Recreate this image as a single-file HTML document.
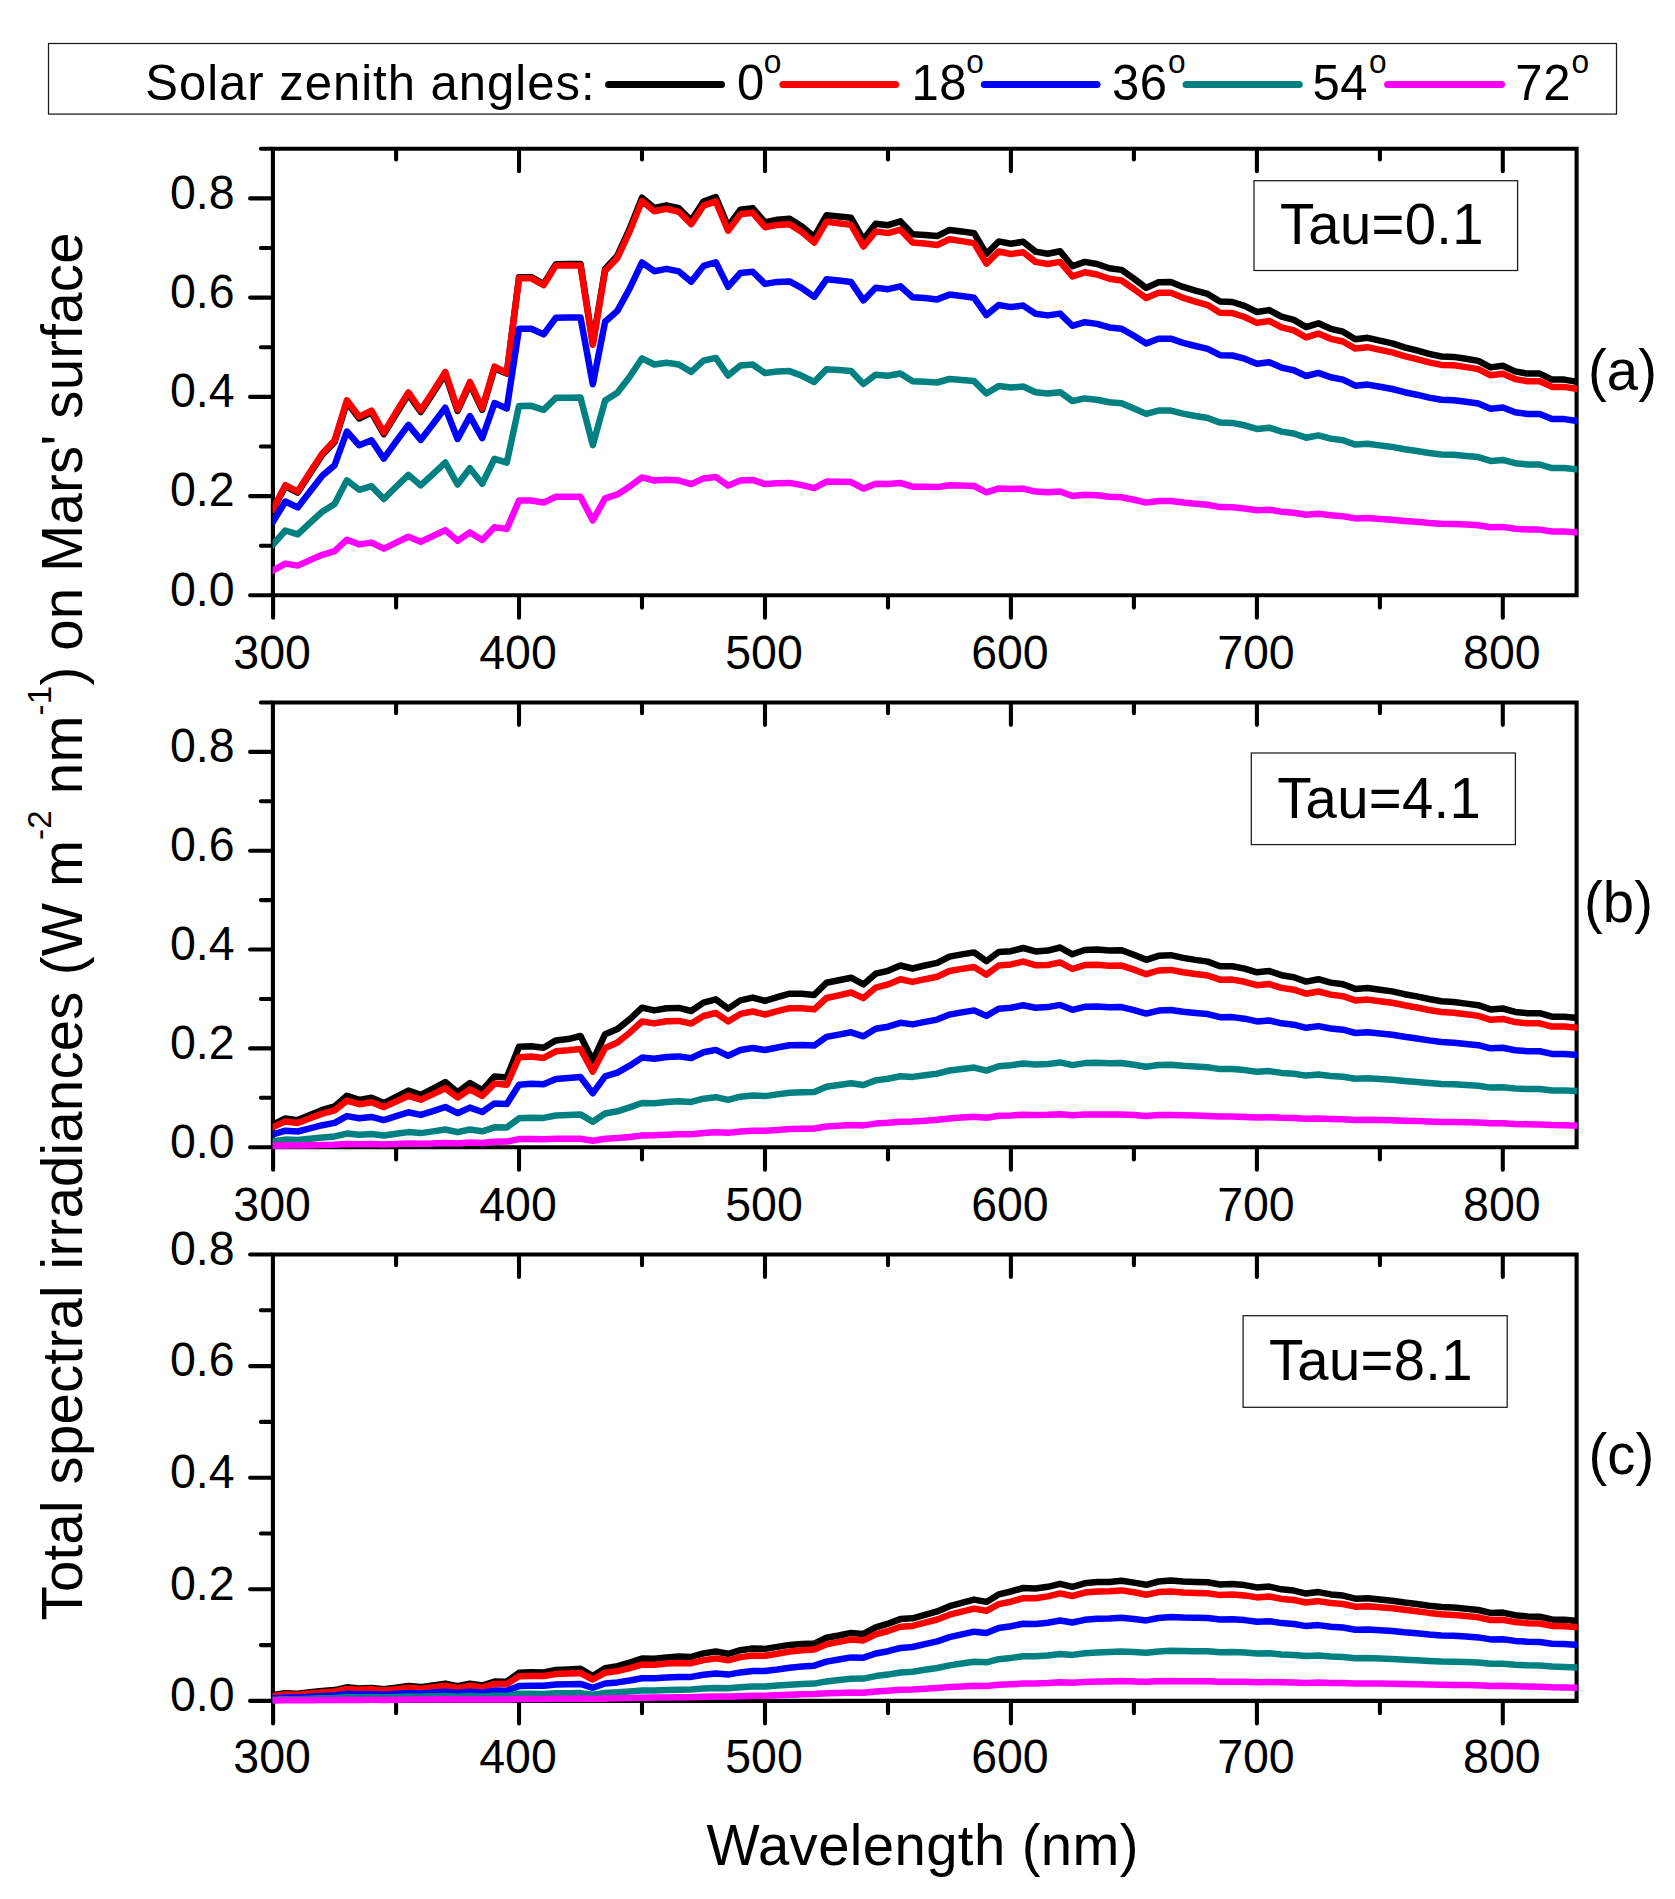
<!DOCTYPE html>
<html><head><meta charset="utf-8"><title>Total spectral irradiances on Mars' surface</title>
<style>html,body{margin:0;padding:0;background:#fff}svg{display:block}</style></head>
<body>
<svg width="1675" height="1899" viewBox="0 0 1675 1899" font-family="'Liberation Sans', sans-serif" fill="#000">
<rect width="1675" height="1899" fill="#fff"/>
<defs><clipPath id="plotclip"><rect x="272.6" y="0" width="1304.5" height="1899"/></clipPath></defs>
<path d="M272.9,148.8 H1576.6 V595.3 H272.9 Z" fill="none" stroke="#000" stroke-width="4.1" stroke-linejoin="miter"/>
<path d="M273.1,596.3 v21.5 M396.1,149.8 v9.7 M396.1,596.3 v11.3 M519.0,149.8 v21.4 M519.0,596.3 v21.5 M642.0,149.8 v9.7 M642.0,596.3 v11.3 M765.0,149.8 v21.4 M765.0,596.3 v21.5 M888.0,149.8 v9.7 M888.0,596.3 v11.3 M1010.9,149.8 v21.4 M1010.9,596.3 v21.5 M1133.9,149.8 v9.7 M1133.9,596.3 v11.3 M1256.9,149.8 v21.4 M1256.9,596.3 v21.5 M1379.9,149.8 v9.7 M1379.9,596.3 v11.3 M1502.8,149.8 v21.4 M1502.8,596.3 v21.5 M271.9,595.3 h-21.8 M271.9,545.7 h-11.0 M271.9,496.1 h-21.8 M271.9,446.5 h-11.0 M271.9,396.9 h-21.8 M271.9,347.2 h-11.0 M271.9,297.6 h-21.8 M271.9,248.0 h-11.0 M271.9,198.4 h-21.8 M271.9,148.8 h-11.0" fill="none" stroke="#000" stroke-width="4.1" stroke-linecap="round"/>
<text transform="translate(234.5,605.6) scale(1,1.038)" font-size="46.5" text-anchor="end">0.0</text>
<text transform="translate(234.5,506.4) scale(1,1.038)" font-size="46.5" text-anchor="end">0.2</text>
<text transform="translate(234.5,407.2) scale(1,1.038)" font-size="46.5" text-anchor="end">0.4</text>
<text transform="translate(234.5,307.9) scale(1,1.038)" font-size="46.5" text-anchor="end">0.6</text>
<text transform="translate(234.5,208.7) scale(1,1.038)" font-size="46.5" text-anchor="end">0.8</text>
<text transform="translate(272.1,669.3) scale(1,1.038)" font-size="46.5" text-anchor="middle">300</text>
<text transform="translate(518.0,669.3) scale(1,1.038)" font-size="46.5" text-anchor="middle">400</text>
<text transform="translate(764.0,669.3) scale(1,1.038)" font-size="46.5" text-anchor="middle">500</text>
<text transform="translate(1009.9,669.3) scale(1,1.038)" font-size="46.5" text-anchor="middle">600</text>
<text transform="translate(1255.9,669.3) scale(1,1.038)" font-size="46.5" text-anchor="middle">700</text>
<text transform="translate(1501.8,669.3) scale(1,1.038)" font-size="46.5" text-anchor="middle">800</text>
<g fill="none" stroke-width="6.5" stroke-linejoin="round" stroke-linecap="square" clip-path="url(#plotclip)">
<polyline stroke="#000000" points="273.1,509.8 285.4,486.3 297.7,492.6 310.0,473.5 322.3,454.8 334.6,442.0 346.9,402.3 359.2,418.5 371.5,412.5 383.8,434.1 396.1,414.0 408.4,394.3 420.7,412.0 433.0,393.3 445.3,374.1 457.6,410.9 469.9,383.8 482.2,409.8 494.5,368.4 506.8,373.6 519.0,277.3 531.3,277.2 543.6,284.1 555.9,264.2 568.2,264.1 580.5,263.9 592.8,343.5 605.1,269.0 617.4,255.7 629.7,228.7 642.0,197.7 654.3,208.0 666.6,205.3 678.9,208.2 691.2,220.5 703.5,201.5 715.8,197.1 728.1,226.5 740.4,209.8 752.7,208.1 765.0,222.4 777.3,219.8 789.6,218.8 801.9,226.6 814.2,236.8 826.5,215.3 838.8,216.4 851.1,217.8 863.4,239.5 875.7,223.7 888.0,225.2 900.3,221.3 912.6,234.2 924.9,234.9 937.2,236.1 949.5,229.9 961.8,231.4 974.1,233.2 986.4,254.0 998.7,241.4 1010.9,243.7 1023.2,241.8 1035.5,251.6 1047.8,253.7 1060.1,251.3 1072.4,266.2 1084.7,261.9 1097.0,264.0 1109.3,268.3 1121.6,269.9 1133.9,278.6 1146.2,287.9 1158.5,282.2 1170.8,281.9 1183.1,286.9 1195.4,290.7 1207.7,293.9 1220.0,301.6 1232.3,302.0 1244.6,305.9 1256.9,312.0 1269.2,310.1 1281.5,316.7 1293.8,319.9 1306.1,327.1 1318.4,323.3 1330.7,328.8 1343.0,331.7 1355.3,339.2 1367.6,337.8 1379.9,340.6 1392.2,343.3 1404.5,347.3 1416.8,350.3 1429.1,353.8 1441.4,356.5 1453.7,356.9 1466.0,358.8 1478.3,360.9 1490.6,367.4 1502.8,365.8 1515.1,371.4 1527.4,373.6 1539.7,373.6 1552.0,379.6 1564.3,379.6 1576.6,381.7"/>
<polyline stroke="#ff0000" points="273.1,509.0 285.4,485.2 297.7,491.6 310.0,472.3 322.3,453.4 334.6,440.5 346.9,400.3 359.2,416.7 371.5,410.7 383.8,432.6 396.1,412.2 408.4,392.4 420.7,410.3 433.0,391.4 445.3,372.0 457.6,409.3 469.9,382.0 482.2,408.3 494.5,366.6 506.8,373.0 519.0,278.3 531.3,278.3 543.6,285.2 555.9,265.4 568.2,265.4 580.5,265.4 592.8,344.8 605.1,270.8 617.4,257.9 629.7,231.4 642.0,200.9 654.3,211.3 666.6,208.8 678.9,211.8 691.2,224.2 703.5,205.6 715.8,201.4 728.1,230.7 740.4,214.3 752.7,212.8 765.0,227.2 777.3,224.9 789.6,224.2 801.9,232.1 814.2,242.6 826.5,221.7 838.8,223.2 851.1,224.9 863.4,246.5 875.7,231.4 888.0,233.1 900.3,229.7 912.6,242.6 924.9,243.6 937.2,245.0 949.5,239.3 961.8,241.1 974.1,243.1 986.4,263.6 998.7,251.5 1010.9,254.0 1023.2,252.3 1035.5,261.9 1047.8,264.0 1060.1,261.9 1072.4,276.4 1084.7,272.3 1097.0,274.5 1109.3,278.8 1121.6,280.5 1133.9,289.0 1146.2,298.1 1158.5,292.8 1170.8,292.8 1183.1,297.8 1195.4,301.7 1207.7,305.1 1220.0,312.7 1232.3,313.1 1244.6,317.0 1256.9,322.9 1269.2,321.0 1281.5,327.4 1293.8,330.4 1306.1,337.3 1318.4,333.6 1330.7,338.8 1343.0,341.5 1355.3,348.6 1367.6,347.2 1379.9,349.9 1392.2,352.4 1404.5,356.2 1416.8,359.1 1429.1,362.4 1441.4,364.9 1453.7,365.3 1466.0,367.1 1478.3,369.1 1490.6,375.3 1502.8,373.7 1515.1,379.1 1527.4,381.2 1539.7,381.2 1552.0,386.9 1564.3,386.9 1576.6,388.9"/>
<polyline stroke="#0000ff" points="273.1,521.5 285.4,501.5 297.7,507.4 310.0,491.4 322.3,475.8 334.6,465.2 346.9,431.5 359.2,445.3 371.5,440.3 383.8,458.6 396.1,441.5 408.4,424.9 420.7,439.9 433.0,424.0 445.3,407.8 457.6,439.0 469.9,416.1 482.2,438.2 494.5,403.1 506.8,408.5 519.0,328.8 531.3,328.7 543.6,334.4 555.9,317.7 568.2,317.6 580.5,317.5 592.8,384.2 605.1,321.8 617.4,310.9 629.7,288.4 642.0,262.5 654.3,271.2 666.6,268.9 678.9,271.4 691.2,281.7 703.5,265.9 715.8,262.3 728.1,286.9 740.4,273.0 752.7,271.7 765.0,283.9 777.3,281.9 789.6,281.4 801.9,288.1 814.2,296.9 826.5,279.3 838.8,280.6 851.1,282.1 863.4,300.4 875.7,287.7 888.0,289.2 900.3,286.3 912.6,297.2 924.9,298.1 937.2,299.4 949.5,294.6 961.8,296.1 974.1,297.8 986.4,315.1 998.7,305.0 1010.9,307.1 1023.2,305.6 1035.5,313.7 1047.8,315.4 1060.1,313.6 1072.4,325.8 1084.7,322.2 1097.0,323.9 1109.3,327.4 1121.6,328.7 1133.9,335.8 1146.2,343.4 1158.5,338.8 1170.8,338.7 1183.1,342.8 1195.4,346.0 1207.7,348.8 1220.0,355.2 1232.3,355.5 1244.6,358.7 1256.9,363.8 1269.2,362.2 1281.5,367.6 1293.8,370.2 1306.1,376.0 1318.4,372.9 1330.7,377.3 1343.0,379.6 1355.3,385.7 1367.6,384.6 1379.9,386.8 1392.2,389.0 1404.5,392.2 1416.8,394.7 1429.1,397.6 1441.4,399.8 1453.7,400.2 1466.0,401.7 1478.3,403.5 1490.6,408.8 1502.8,407.5 1515.1,412.2 1527.4,414.0 1539.7,414.1 1552.0,419.1 1564.3,419.1 1576.6,420.9"/>
<polyline stroke="#008080" points="273.1,544.5 285.4,530.5 297.7,534.3 310.0,522.9 322.3,511.7 334.6,504.0 346.9,480.3 359.2,489.8 371.5,486.2 383.8,499.0 396.1,486.8 408.4,474.9 420.7,485.4 433.0,474.1 445.3,462.5 457.6,484.5 469.9,468.2 482.2,483.8 494.5,458.8 506.8,462.6 519.0,405.9 531.3,405.8 543.6,409.8 555.9,397.8 568.2,397.7 580.5,397.6 592.8,445.1 605.1,400.6 617.4,392.8 629.7,376.8 642.0,358.3 654.3,364.5 666.6,362.8 678.9,364.5 691.2,371.9 703.5,360.6 715.8,357.9 728.1,375.5 740.4,365.5 752.7,364.5 765.0,373.1 777.3,371.6 789.6,371.1 801.9,375.8 814.2,382.0 826.5,369.2 838.8,370.0 851.1,371.0 863.4,384.0 875.7,374.7 888.0,375.7 900.3,373.5 912.6,381.2 924.9,381.7 937.2,382.5 949.5,379.0 961.8,380.0 974.1,381.1 986.4,393.5 998.7,386.1 1010.9,387.6 1023.2,386.5 1035.5,392.3 1047.8,393.5 1060.1,392.2 1072.4,401.0 1084.7,398.4 1097.0,399.7 1109.3,402.3 1121.6,403.2 1133.9,408.4 1146.2,413.9 1158.5,410.6 1170.8,410.6 1183.1,413.6 1195.4,416.0 1207.7,418.0 1220.0,422.6 1232.3,422.9 1244.6,425.3 1256.9,428.9 1269.2,427.7 1281.5,431.6 1293.8,433.5 1306.1,437.7 1318.4,435.4 1330.7,438.6 1343.0,440.2 1355.3,444.6 1367.6,443.7 1379.9,445.4 1392.2,446.9 1404.5,449.2 1416.8,451.0 1429.1,453.0 1441.4,454.5 1453.7,454.8 1466.0,455.9 1478.3,457.1 1490.6,460.9 1502.8,459.9 1515.1,463.2 1527.4,464.5 1539.7,464.5 1552.0,468.1 1564.3,468.1 1576.6,469.3"/>
<polyline stroke="#ff00ff" points="273.1,570.4 285.4,563.6 297.7,565.6 310.0,560.1 322.3,554.8 334.6,551.2 346.9,539.7 359.2,544.4 371.5,542.6 383.8,548.7 396.1,542.7 408.4,536.7 420.7,541.7 433.0,536.0 445.3,530.1 457.6,540.7 469.9,532.4 482.2,539.9 494.5,527.2 506.8,528.9 519.0,500.5 531.3,500.5 543.6,502.6 555.9,496.7 568.2,496.7 580.5,496.7 592.8,520.4 605.1,498.3 617.4,494.4 629.7,486.5 642.0,477.4 654.3,480.5 666.6,479.7 678.9,480.5 691.2,484.1 703.5,478.4 715.8,477.0 728.1,485.6 740.4,480.5 752.7,479.9 765.0,484.1 777.3,483.3 789.6,482.9 801.9,485.1 814.2,488.1 826.5,481.6 838.8,481.8 851.1,482.1 863.4,488.6 875.7,483.8 888.0,484.1 900.3,482.9 912.6,486.7 924.9,486.8 937.2,487.1 949.5,485.2 961.8,485.5 974.1,486.0 986.4,492.3 998.7,488.4 1010.9,489.1 1023.2,488.6 1035.5,491.6 1047.8,492.2 1060.1,491.5 1072.4,496.0 1084.7,494.7 1097.0,495.3 1109.3,496.7 1121.6,497.2 1133.9,499.8 1146.2,502.6 1158.5,501.0 1170.8,501.0 1183.1,502.5 1195.4,503.7 1207.7,504.8 1220.0,507.1 1232.3,507.3 1244.6,508.5 1256.9,510.3 1269.2,509.7 1281.5,511.7 1293.8,512.7 1306.1,514.8 1318.4,513.7 1330.7,515.3 1343.0,516.2 1355.3,518.4 1367.6,518.0 1379.9,518.9 1392.2,519.7 1404.5,520.9 1416.8,521.8 1429.1,522.9 1441.4,523.7 1453.7,523.9 1466.0,524.6 1478.3,525.3 1490.6,527.3 1502.8,526.9 1515.1,528.7 1527.4,529.5 1539.7,529.6 1552.0,531.5 1564.3,531.6 1576.6,532.4"/>
</g>
<path d="M272.9,702.45 H1576.6 V1147.2 H272.9 Z" fill="none" stroke="#000" stroke-width="4.1" stroke-linejoin="miter"/>
<path d="M273.1,1148.2 v21.5 M396.1,703.45 v9.7 M396.1,1148.2 v11.3 M519.0,703.45 v21.4 M519.0,1148.2 v21.5 M642.0,703.45 v9.7 M642.0,1148.2 v11.3 M765.0,703.45 v21.4 M765.0,1148.2 v21.5 M888.0,703.45 v9.7 M888.0,1148.2 v11.3 M1010.9,703.45 v21.4 M1010.9,1148.2 v21.5 M1133.9,703.45 v9.7 M1133.9,1148.2 v11.3 M1256.9,703.45 v21.4 M1256.9,1148.2 v21.5 M1379.9,703.45 v9.7 M1379.9,1148.2 v11.3 M1502.8,703.45 v21.4 M1502.8,1148.2 v21.5 M271.9,1147.2 h-21.8 M271.9,1097.8 h-11.0 M271.9,1048.4 h-21.8 M271.9,999.0 h-11.0 M271.9,949.5 h-21.8 M271.9,900.1 h-11.0 M271.9,850.7 h-21.8 M271.9,801.3 h-11.0 M271.9,751.9 h-21.8 M271.9,702.5 h-11.0" fill="none" stroke="#000" stroke-width="4.1" stroke-linecap="round"/>
<text transform="translate(234.5,1157.5) scale(1,1.038)" font-size="46.5" text-anchor="end">0.0</text>
<text transform="translate(234.5,1058.7) scale(1,1.038)" font-size="46.5" text-anchor="end">0.2</text>
<text transform="translate(234.5,959.8) scale(1,1.038)" font-size="46.5" text-anchor="end">0.4</text>
<text transform="translate(234.5,861.0) scale(1,1.038)" font-size="46.5" text-anchor="end">0.6</text>
<text transform="translate(234.5,762.2) scale(1,1.038)" font-size="46.5" text-anchor="end">0.8</text>
<text transform="translate(272.1,1220.5) scale(1,1.038)" font-size="46.5" text-anchor="middle">300</text>
<text transform="translate(518.0,1220.5) scale(1,1.038)" font-size="46.5" text-anchor="middle">400</text>
<text transform="translate(764.0,1220.5) scale(1,1.038)" font-size="46.5" text-anchor="middle">500</text>
<text transform="translate(1009.9,1220.5) scale(1,1.038)" font-size="46.5" text-anchor="middle">600</text>
<text transform="translate(1255.9,1220.5) scale(1,1.038)" font-size="46.5" text-anchor="middle">700</text>
<text transform="translate(1501.8,1220.5) scale(1,1.038)" font-size="46.5" text-anchor="middle">800</text>
<g fill="none" stroke-width="6.5" stroke-linejoin="round" stroke-linecap="square" clip-path="url(#plotclip)">
<polyline stroke="#000000" points="273.1,1124.7 285.4,1118.5 297.7,1120.1 310.0,1115.0 322.3,1110.0 334.6,1106.5 346.9,1095.8 359.2,1099.9 371.5,1097.8 383.8,1103.1 396.1,1096.9 408.4,1090.6 420.7,1094.8 433.0,1088.6 445.3,1082.1 457.6,1092.2 469.9,1083.1 482.2,1090.1 494.5,1076.4 506.8,1077.5 519.0,1046.8 531.3,1046.2 543.6,1047.7 555.9,1040.4 568.2,1039.1 580.5,1036.0 592.8,1060.6 605.1,1034.2 617.4,1029.1 629.7,1019.3 642.0,1007.7 654.3,1010.4 666.6,1008.2 678.9,1007.9 691.2,1011.0 703.5,1002.6 715.8,999.3 728.1,1008.6 740.4,1000.4 752.7,997.6 765.0,1000.9 777.3,997.2 789.6,993.7 801.9,993.7 814.2,994.9 826.5,982.7 838.8,980.2 851.1,977.7 863.4,984.4 875.7,973.7 888.0,970.8 900.3,965.5 912.6,968.5 924.9,965.5 937.2,962.9 949.5,956.6 961.8,954.4 974.1,952.4 986.4,961.2 998.7,952.0 1010.9,951.2 1023.2,948.0 1035.5,951.4 1047.8,950.6 1060.1,947.5 1072.4,954.3 1084.7,950.0 1097.0,949.5 1109.3,950.5 1121.6,950.2 1133.9,954.7 1146.2,959.8 1158.5,955.8 1170.8,955.2 1183.1,957.9 1195.4,959.9 1207.7,961.6 1220.0,966.2 1232.3,966.2 1244.6,968.6 1256.9,972.3 1269.2,971.1 1281.5,975.2 1293.8,977.2 1306.1,981.6 1318.4,979.2 1330.7,982.6 1343.0,984.3 1355.3,988.9 1367.6,988.0 1379.9,989.7 1392.2,991.4 1404.5,994.2 1416.8,996.4 1429.1,999.0 1441.4,1001.2 1453.7,1002.0 1466.0,1003.6 1478.3,1005.2 1490.6,1009.4 1502.8,1008.5 1515.1,1011.9 1527.4,1013.2 1539.7,1013.2 1552.0,1016.7 1564.3,1016.7 1576.6,1017.9"/>
<polyline stroke="#ff0000" points="273.1,1127.0 285.4,1121.4 297.7,1122.9 310.0,1118.2 322.3,1113.6 334.6,1110.4 346.9,1100.6 359.2,1104.2 371.5,1102.3 383.8,1107.1 396.1,1101.5 408.4,1095.8 420.7,1099.7 433.0,1094.1 445.3,1088.3 457.6,1097.5 469.9,1089.4 482.2,1095.9 494.5,1083.6 506.8,1084.7 519.0,1057.2 531.3,1056.6 543.6,1057.9 555.9,1051.3 568.2,1050.3 580.5,1049.0 592.8,1071.6 605.1,1047.9 617.4,1042.5 629.7,1032.7 642.0,1021.5 654.3,1023.4 666.6,1021.2 678.9,1020.9 691.2,1023.6 703.5,1016.0 715.8,1013.0 728.1,1021.4 740.4,1013.9 752.7,1011.5 765.0,1014.5 777.3,1011.2 789.6,1008.2 801.9,1008.3 814.2,1009.3 826.5,998.0 838.8,995.3 851.1,992.5 863.4,998.1 875.7,987.6 888.0,984.4 900.3,979.3 912.6,981.9 924.9,979.2 937.2,976.8 949.5,971.0 961.8,968.9 974.1,967.0 986.4,974.7 998.7,965.5 1010.9,964.4 1023.2,961.6 1035.5,965.2 1047.8,965.0 1060.1,962.4 1072.4,969.0 1084.7,965.1 1097.0,964.8 1109.3,965.8 1121.6,965.6 1133.9,969.6 1146.2,974.2 1158.5,970.5 1170.8,969.9 1183.1,972.2 1195.4,974.0 1207.7,975.5 1220.0,979.7 1232.3,979.6 1244.6,981.8 1256.9,985.2 1269.2,984.1 1281.5,987.9 1293.8,989.7 1306.1,993.7 1318.4,991.5 1330.7,994.6 1343.0,996.2 1355.3,1000.4 1367.6,999.6 1379.9,1001.2 1392.2,1002.8 1404.5,1005.3 1416.8,1007.5 1429.1,1010.0 1441.4,1012.0 1453.7,1012.8 1466.0,1014.3 1478.3,1015.9 1490.6,1019.8 1502.8,1018.9 1515.1,1022.1 1527.4,1023.3 1539.7,1023.3 1552.0,1026.6 1564.3,1026.6 1576.6,1027.7"/>
<polyline stroke="#0000ff" points="273.1,1134.4 285.4,1130.7 297.7,1131.5 310.0,1128.3 322.3,1125.2 334.6,1122.9 346.9,1116.1 359.2,1118.3 371.5,1116.9 383.8,1120.1 396.1,1116.2 408.4,1112.3 420.7,1114.9 433.0,1111.1 445.3,1107.0 457.6,1113.2 469.9,1107.6 482.2,1112.0 494.5,1103.4 506.8,1104.0 519.0,1084.7 531.3,1083.7 543.6,1084.2 555.9,1079.1 568.2,1078.1 580.5,1077.0 592.8,1093.2 605.1,1076.3 617.4,1072.6 629.7,1065.7 642.0,1057.6 654.3,1058.8 666.6,1057.0 678.9,1056.4 691.2,1058.1 703.5,1052.3 715.8,1049.9 728.1,1055.7 740.4,1050.0 752.7,1048.0 765.0,1050.0 777.3,1047.5 789.6,1045.2 801.9,1045.0 814.2,1045.6 826.5,1036.9 838.8,1034.6 851.1,1032.3 863.4,1036.3 875.7,1028.8 888.0,1026.7 900.3,1022.8 912.6,1024.4 924.9,1021.9 937.2,1019.6 949.5,1014.6 961.8,1012.4 974.1,1010.4 986.4,1015.9 998.7,1008.8 1010.9,1007.8 1023.2,1005.3 1035.5,1007.7 1047.8,1007.1 1060.1,1004.9 1072.4,1009.8 1084.7,1006.8 1097.0,1006.5 1109.3,1007.3 1121.6,1007.1 1133.9,1010.1 1146.2,1013.6 1158.5,1010.6 1170.8,1010.0 1183.1,1011.7 1195.4,1013.0 1207.7,1014.1 1220.0,1017.2 1232.3,1017.1 1244.6,1018.7 1256.9,1021.4 1269.2,1020.4 1281.5,1023.3 1293.8,1024.7 1306.1,1027.8 1318.4,1026.1 1330.7,1028.5 1343.0,1029.7 1355.3,1033.0 1367.6,1032.3 1379.9,1033.5 1392.2,1034.8 1404.5,1036.8 1416.8,1038.5 1429.1,1040.4 1441.4,1042.0 1453.7,1042.7 1466.0,1043.9 1478.3,1045.2 1490.6,1048.3 1502.8,1047.7 1515.1,1050.2 1527.4,1051.2 1539.7,1051.3 1552.0,1053.9 1564.3,1053.9 1576.6,1054.8"/>
<polyline stroke="#008080" points="273.1,1141.3 285.4,1139.6 297.7,1140.1 310.0,1138.7 322.3,1137.4 334.6,1136.4 346.9,1133.6 359.2,1134.7 371.5,1134.1 383.8,1135.5 396.1,1133.8 408.4,1132.1 420.7,1133.1 433.0,1131.4 445.3,1129.5 457.6,1132.2 469.9,1129.5 482.2,1131.3 494.5,1127.3 506.8,1127.4 519.0,1118.3 531.3,1117.7 543.6,1117.9 555.9,1115.5 568.2,1115.0 580.5,1114.4 592.8,1121.8 605.1,1113.5 617.4,1111.3 629.7,1107.4 642.0,1103.0 654.3,1103.2 666.6,1101.9 678.9,1101.3 691.2,1101.9 703.5,1098.7 715.8,1097.2 728.1,1099.9 740.4,1096.7 752.7,1095.4 765.0,1096.1 777.3,1094.4 789.6,1092.7 801.9,1092.2 814.2,1092.0 826.5,1086.7 838.8,1085.0 851.1,1083.2 863.4,1085.0 875.7,1080.4 888.0,1078.8 900.3,1076.3 912.6,1076.9 924.9,1075.2 937.2,1073.6 949.5,1070.5 961.8,1069.0 974.1,1067.6 986.4,1070.6 998.7,1066.2 1010.9,1065.3 1023.2,1063.5 1035.5,1064.6 1047.8,1063.9 1060.1,1062.4 1072.4,1065.1 1084.7,1063.1 1097.0,1062.8 1109.3,1063.2 1121.6,1063.0 1133.9,1064.8 1146.2,1066.8 1158.5,1065.0 1170.8,1064.7 1183.1,1065.8 1195.4,1066.6 1207.7,1067.2 1220.0,1069.1 1232.3,1069.1 1244.6,1070.1 1256.9,1071.7 1269.2,1071.1 1281.5,1072.9 1293.8,1073.7 1306.1,1075.6 1318.4,1074.5 1330.7,1075.9 1343.0,1076.7 1355.3,1078.7 1367.6,1078.3 1379.9,1079.0 1392.2,1079.7 1404.5,1080.9 1416.8,1081.9 1429.1,1083.0 1441.4,1084.0 1453.7,1084.3 1466.0,1085.0 1478.3,1085.7 1490.6,1087.6 1502.8,1087.2 1515.1,1088.6 1527.4,1089.1 1539.7,1089.1 1552.0,1090.6 1564.3,1090.5 1576.6,1090.9"/>
<polyline stroke="#ff00ff" points="273.1,1145.7 285.4,1145.4 297.7,1145.5 310.0,1145.2 322.3,1144.9 334.6,1144.7 346.9,1144.0 359.2,1144.3 371.5,1144.1 383.8,1144.4 396.1,1144.0 408.4,1143.6 420.7,1143.8 433.0,1143.4 445.3,1142.9 457.6,1143.4 469.9,1142.6 482.2,1142.9 494.5,1141.7 506.8,1141.6 519.0,1139.1 531.3,1139.1 543.6,1139.3 555.9,1138.8 568.2,1138.8 580.5,1138.8 592.8,1140.8 605.1,1138.7 617.4,1138.1 629.7,1136.9 642.0,1135.5 654.3,1135.3 666.6,1134.8 678.9,1134.3 691.2,1134.2 703.5,1133.0 715.8,1132.2 728.1,1132.7 740.4,1131.4 752.7,1130.7 765.0,1130.7 777.3,1129.9 789.6,1129.1 801.9,1128.7 814.2,1128.5 826.5,1126.5 838.8,1125.7 851.1,1125.0 863.4,1125.4 875.7,1123.6 888.0,1122.8 900.3,1121.7 912.6,1121.6 924.9,1120.7 937.2,1119.8 949.5,1118.4 961.8,1117.5 974.1,1116.7 986.4,1117.7 998.7,1115.8 1010.9,1115.4 1023.2,1114.7 1035.5,1115.1 1047.8,1114.8 1060.1,1114.2 1072.4,1115.3 1084.7,1114.5 1097.0,1114.4 1109.3,1114.5 1121.6,1114.4 1133.9,1115.1 1146.2,1115.9 1158.5,1115.1 1170.8,1115.0 1183.1,1115.3 1195.4,1115.6 1207.7,1115.9 1220.0,1116.6 1232.3,1116.5 1244.6,1116.9 1256.9,1117.5 1269.2,1117.2 1281.5,1117.8 1293.8,1118.1 1306.1,1118.8 1318.4,1118.4 1330.7,1118.9 1343.0,1119.2 1355.3,1119.9 1367.6,1119.8 1379.9,1120.1 1392.2,1120.3 1404.5,1120.8 1416.8,1121.1 1429.1,1121.6 1441.4,1121.9 1453.7,1122.0 1466.0,1122.3 1478.3,1122.5 1490.6,1123.3 1502.8,1123.2 1515.1,1123.9 1527.4,1124.2 1539.7,1124.4 1552.0,1125.1 1564.3,1125.3 1576.6,1125.7"/>
</g>
<path d="M272.9,1254.5 H1576.6 V1700.9 H272.9 Z" fill="none" stroke="#000" stroke-width="4.1" stroke-linejoin="miter"/>
<path d="M273.1,1701.9 v21.5 M396.1,1255.5 v9.7 M396.1,1701.9 v11.3 M519.0,1255.5 v21.4 M519.0,1701.9 v21.5 M642.0,1255.5 v9.7 M642.0,1701.9 v11.3 M765.0,1255.5 v21.4 M765.0,1701.9 v21.5 M888.0,1255.5 v9.7 M888.0,1701.9 v11.3 M1010.9,1255.5 v21.4 M1010.9,1701.9 v21.5 M1133.9,1255.5 v9.7 M1133.9,1701.9 v11.3 M1256.9,1255.5 v21.4 M1256.9,1701.9 v21.5 M1379.9,1255.5 v9.7 M1379.9,1701.9 v11.3 M1502.8,1255.5 v21.4 M1502.8,1701.9 v21.5 M271.9,1700.9 h-21.8 M271.9,1645.1 h-11.0 M271.9,1589.3 h-21.8 M271.9,1533.5 h-11.0 M271.9,1477.7 h-21.8 M271.9,1421.9 h-11.0 M271.9,1366.1 h-21.8 M271.9,1310.3 h-11.0 M271.9,1254.5 h-21.8" fill="none" stroke="#000" stroke-width="4.1" stroke-linecap="round"/>
<text transform="translate(234.5,1711.2) scale(1,1.038)" font-size="46.5" text-anchor="end">0.0</text>
<text transform="translate(234.5,1599.6) scale(1,1.038)" font-size="46.5" text-anchor="end">0.2</text>
<text transform="translate(234.5,1488.0) scale(1,1.038)" font-size="46.5" text-anchor="end">0.4</text>
<text transform="translate(234.5,1376.4) scale(1,1.038)" font-size="46.5" text-anchor="end">0.6</text>
<text transform="translate(234.5,1264.8) scale(1,1.038)" font-size="46.5" text-anchor="end">0.8</text>
<text transform="translate(272.1,1773.2) scale(1,1.038)" font-size="46.5" text-anchor="middle">300</text>
<text transform="translate(518.0,1773.2) scale(1,1.038)" font-size="46.5" text-anchor="middle">400</text>
<text transform="translate(764.0,1773.2) scale(1,1.038)" font-size="46.5" text-anchor="middle">500</text>
<text transform="translate(1009.9,1773.2) scale(1,1.038)" font-size="46.5" text-anchor="middle">600</text>
<text transform="translate(1255.9,1773.2) scale(1,1.038)" font-size="46.5" text-anchor="middle">700</text>
<text transform="translate(1501.8,1773.2) scale(1,1.038)" font-size="46.5" text-anchor="middle">800</text>
<g fill="none" stroke-width="6.5" stroke-linejoin="round" stroke-linecap="square" clip-path="url(#plotclip)">
<polyline stroke="#000000" points="273.1,1694.9 285.4,1693.2 297.7,1693.7 310.0,1692.3 322.3,1691.0 334.6,1690.1 346.9,1687.3 359.2,1688.4 371.5,1687.9 383.8,1689.3 396.1,1687.7 408.4,1686.0 420.7,1687.1 433.0,1685.4 445.3,1683.6 457.6,1686.2 469.9,1683.7 482.2,1685.5 494.5,1681.6 506.8,1681.7 519.0,1672.8 531.3,1672.3 543.6,1672.4 555.9,1670.0 568.2,1669.4 580.5,1668.8 592.8,1676.1 605.1,1668.2 617.4,1666.2 629.7,1662.7 642.0,1658.6 654.3,1658.8 666.6,1657.4 678.9,1656.6 691.2,1656.9 703.5,1653.4 715.8,1651.5 728.1,1653.8 740.4,1650.2 752.7,1648.5 765.0,1648.9 777.3,1646.9 789.6,1644.9 801.9,1644.1 814.2,1643.6 826.5,1637.8 838.8,1635.5 851.1,1632.9 863.4,1633.9 875.7,1627.3 888.0,1623.7 900.3,1619.1 912.6,1618.3 924.9,1614.8 937.2,1611.4 949.5,1606.2 961.8,1602.9 974.1,1599.6 986.4,1601.9 998.7,1594.4 1010.9,1591.5 1023.2,1588.0 1035.5,1588.5 1047.8,1586.8 1060.1,1583.8 1072.4,1586.8 1084.7,1583.3 1097.0,1582.1 1109.3,1581.9 1121.6,1580.8 1133.9,1582.6 1146.2,1584.8 1158.5,1581.5 1170.8,1580.5 1183.1,1581.4 1195.4,1581.9 1207.7,1582.3 1220.0,1584.5 1232.3,1584.0 1244.6,1585.1 1256.9,1587.4 1269.2,1586.6 1281.5,1589.3 1293.8,1590.6 1306.1,1593.6 1318.4,1592.1 1330.7,1594.4 1343.0,1595.6 1355.3,1598.7 1367.6,1598.2 1379.9,1599.5 1392.2,1600.7 1404.5,1602.5 1416.8,1604.0 1429.1,1605.7 1441.4,1607.1 1453.7,1607.6 1466.0,1608.8 1478.3,1610.0 1490.6,1612.9 1502.8,1612.6 1515.1,1615.2 1527.4,1616.4 1539.7,1616.8 1552.0,1619.4 1564.3,1619.8 1576.6,1621.0"/>
<polyline stroke="#ff0000" points="273.1,1695.9 285.4,1694.4 297.7,1694.8 310.0,1693.6 322.3,1692.4 334.6,1691.5 346.9,1688.9 359.2,1689.8 371.5,1689.3 383.8,1690.6 396.1,1689.2 408.4,1687.7 420.7,1688.7 433.0,1687.3 445.3,1685.7 457.6,1688.0 469.9,1685.8 482.2,1687.4 494.5,1683.9 506.8,1684.0 519.0,1676.3 531.3,1675.9 543.6,1676.0 555.9,1674.0 568.2,1673.5 580.5,1673.1 592.8,1679.5 605.1,1672.7 617.4,1671.1 629.7,1668.1 642.0,1664.6 654.3,1664.8 666.6,1663.6 678.9,1663.0 691.2,1663.2 703.5,1660.1 715.8,1658.4 728.1,1660.3 740.4,1657.1 752.7,1655.5 765.0,1655.7 777.3,1653.7 789.6,1651.5 801.9,1650.3 814.2,1649.6 826.5,1644.2 838.8,1641.9 851.1,1639.5 863.4,1640.4 875.7,1634.3 888.0,1631.0 900.3,1626.7 912.6,1625.9 924.9,1622.6 937.2,1619.5 949.5,1614.7 961.8,1611.6 974.1,1608.6 986.4,1610.8 998.7,1604.1 1010.9,1601.7 1023.2,1598.2 1035.5,1598.3 1047.8,1596.4 1060.1,1593.4 1072.4,1596.0 1084.7,1592.6 1097.0,1591.4 1109.3,1591.2 1121.6,1590.4 1133.9,1592.2 1146.2,1594.7 1158.5,1592.1 1170.8,1591.5 1183.1,1592.4 1195.4,1592.9 1207.7,1593.2 1220.0,1595.1 1232.3,1594.5 1244.6,1595.4 1256.9,1597.4 1269.2,1596.5 1281.5,1598.9 1293.8,1600.0 1306.1,1602.5 1318.4,1601.1 1330.7,1603.0 1343.0,1604.0 1355.3,1606.7 1367.6,1606.2 1379.9,1607.2 1392.2,1608.2 1404.5,1609.8 1416.8,1611.2 1429.1,1612.9 1441.4,1614.3 1453.7,1614.9 1466.0,1616.0 1478.3,1617.3 1490.6,1620.0 1502.8,1619.8 1515.1,1622.1 1527.4,1623.2 1539.7,1623.5 1552.0,1625.9 1564.3,1626.2 1576.6,1627.2"/>
<polyline stroke="#0000ff" points="273.1,1698.3 285.4,1697.4 297.7,1697.5 310.0,1696.8 322.3,1696.0 334.6,1695.4 346.9,1693.8 359.2,1694.3 371.5,1693.9 383.8,1694.7 396.1,1693.8 408.4,1692.9 420.7,1693.5 433.0,1692.6 445.3,1691.7 457.6,1693.1 469.9,1691.7 482.2,1692.7 494.5,1690.6 506.8,1690.7 519.0,1686.1 531.3,1685.8 543.6,1685.8 555.9,1684.5 568.2,1684.2 580.5,1683.9 592.8,1687.8 605.1,1683.5 617.4,1682.4 629.7,1680.5 642.0,1678.3 654.3,1678.3 666.6,1677.5 678.9,1676.9 691.2,1676.9 703.5,1674.8 715.8,1673.6 728.1,1674.6 740.4,1672.4 752.7,1671.1 765.0,1671.0 777.3,1669.5 789.6,1667.7 801.9,1666.6 814.2,1665.7 826.5,1661.6 838.8,1659.5 851.1,1657.4 863.4,1657.7 875.7,1653.5 888.0,1651.2 900.3,1648.0 912.6,1647.0 924.9,1644.1 937.2,1641.3 949.5,1637.2 961.8,1634.4 974.1,1631.7 986.4,1633.0 998.7,1628.0 1010.9,1626.2 1023.2,1623.7 1035.5,1624.0 1047.8,1622.7 1060.1,1620.5 1072.4,1622.5 1084.7,1619.8 1097.0,1618.8 1109.3,1618.5 1121.6,1617.7 1133.9,1618.9 1146.2,1620.4 1158.5,1618.0 1170.8,1617.1 1183.1,1617.6 1195.4,1617.8 1207.7,1618.1 1220.0,1619.6 1232.3,1619.3 1244.6,1620.1 1256.9,1621.8 1269.2,1621.2 1281.5,1623.1 1293.8,1624.0 1306.1,1626.1 1318.4,1625.1 1330.7,1626.7 1343.0,1627.5 1355.3,1629.7 1367.6,1629.4 1379.9,1630.2 1392.2,1631.0 1404.5,1632.3 1416.8,1633.3 1429.1,1634.5 1441.4,1635.4 1453.7,1635.8 1466.0,1636.6 1478.3,1637.4 1490.6,1639.4 1502.8,1639.2 1515.1,1640.9 1527.4,1641.7 1539.7,1642.0 1552.0,1643.8 1564.3,1644.1 1576.6,1644.9"/>
<polyline stroke="#008080" points="273.1,1699.7 285.4,1699.2 297.7,1699.2 310.0,1698.7 322.3,1698.3 334.6,1697.9 346.9,1697.0 359.2,1697.2 371.5,1697.0 383.8,1697.4 396.1,1696.9 408.4,1696.4 420.7,1696.8 433.0,1696.3 445.3,1695.9 457.6,1696.7 469.9,1696.1 482.2,1696.7 494.5,1695.8 506.8,1695.9 519.0,1693.8 531.3,1693.8 543.6,1693.9 555.9,1693.3 568.2,1693.2 580.5,1693.1 592.8,1694.8 605.1,1692.9 617.4,1692.3 629.7,1691.4 642.0,1690.4 654.3,1690.4 666.6,1690.0 678.9,1689.7 691.2,1689.6 703.5,1688.6 715.8,1687.9 728.1,1688.3 740.4,1687.2 752.7,1686.5 765.0,1686.4 777.3,1685.6 789.6,1684.7 801.9,1684.1 814.2,1683.6 826.5,1681.4 838.8,1680.1 851.1,1678.7 863.4,1678.6 875.7,1676.1 888.0,1674.6 900.3,1672.5 912.6,1671.7 924.9,1669.8 937.2,1668.0 949.5,1665.4 961.8,1663.5 974.1,1661.8 986.4,1662.3 998.7,1659.2 1010.9,1657.9 1023.2,1656.3 1035.5,1656.3 1047.8,1655.5 1060.1,1654.0 1072.4,1654.9 1084.7,1653.2 1097.0,1652.4 1109.3,1652.0 1121.6,1651.4 1133.9,1652.0 1146.2,1652.8 1158.5,1651.4 1170.8,1650.8 1183.1,1651.1 1195.4,1651.2 1207.7,1651.3 1220.0,1652.3 1232.3,1652.1 1244.6,1652.6 1256.9,1653.6 1269.2,1653.2 1281.5,1654.4 1293.8,1654.9 1306.1,1656.1 1318.4,1655.5 1330.7,1656.4 1343.0,1656.9 1355.3,1658.2 1367.6,1658.0 1379.9,1658.5 1392.2,1659.0 1404.5,1659.7 1416.8,1660.3 1429.1,1660.9 1441.4,1661.5 1453.7,1661.7 1466.0,1662.1 1478.3,1662.6 1490.6,1663.8 1502.8,1663.7 1515.1,1664.8 1527.4,1665.3 1539.7,1665.5 1552.0,1666.6 1564.3,1666.9 1576.6,1667.4"/>
<polyline stroke="#ff00ff" points="273.1,1700.4 285.4,1700.3 297.7,1700.3 310.0,1700.2 322.3,1700.1 334.6,1700.0 346.9,1699.8 359.2,1699.9 371.5,1699.8 383.8,1699.9 396.1,1699.7 408.4,1699.5 420.7,1699.6 433.0,1699.4 445.3,1699.2 457.6,1699.5 469.9,1699.4 482.2,1699.6 494.5,1699.4 506.8,1699.5 519.0,1698.9 531.3,1698.9 543.6,1698.9 555.9,1698.8 568.2,1698.7 580.5,1698.6 592.8,1699.1 605.1,1698.5 617.4,1698.3 629.7,1698.0 642.0,1697.7 654.3,1697.6 666.6,1697.5 678.9,1697.3 691.2,1697.2 703.5,1696.8 715.8,1696.6 728.1,1696.6 740.4,1696.2 752.7,1695.8 765.0,1695.7 777.3,1695.3 789.6,1694.7 801.9,1694.3 814.2,1694.0 826.5,1693.2 838.8,1692.9 851.1,1692.6 863.4,1692.7 875.7,1691.6 888.0,1690.7 900.3,1689.8 912.6,1689.5 924.9,1688.7 937.2,1688.0 949.5,1687.1 961.8,1686.4 974.1,1685.8 986.4,1686.0 998.7,1684.8 1010.9,1684.3 1023.2,1683.6 1035.5,1683.4 1047.8,1683.0 1060.1,1682.3 1072.4,1682.7 1084.7,1681.9 1097.0,1681.6 1109.3,1681.4 1121.6,1681.1 1133.9,1681.4 1146.2,1681.7 1158.5,1681.2 1170.8,1681.0 1183.1,1681.2 1195.4,1681.3 1207.7,1681.3 1220.0,1681.7 1232.3,1681.7 1244.6,1681.8 1256.9,1682.2 1269.2,1681.9 1281.5,1682.3 1293.8,1682.5 1306.1,1682.9 1318.4,1682.5 1330.7,1682.9 1343.0,1683.0 1355.3,1683.5 1367.6,1683.4 1379.9,1683.5 1392.2,1683.7 1404.5,1684.0 1416.8,1684.3 1429.1,1684.6 1441.4,1684.8 1453.7,1684.9 1466.0,1685.1 1478.3,1685.3 1490.6,1685.9 1502.8,1685.8 1515.1,1686.3 1527.4,1686.6 1539.7,1686.7 1552.0,1687.3 1564.3,1687.4 1576.6,1687.7"/>
</g>
<rect x="1254" y="180.7" width="263.6" height="89.8" fill="#fff" stroke="#1a1a1a" stroke-width="1.25"/>
<text transform="translate(1381.9,244.2) scale(1,1.027)" font-size="56.3" text-anchor="middle" letter-spacing="0.3">Tau=0.1</text>
<rect x="1251.3" y="753" width="264.1" height="91.6" fill="#fff" stroke="#1a1a1a" stroke-width="1.25"/>
<text transform="translate(1379.1,817.7) scale(1,1.027)" font-size="56.3" text-anchor="middle" letter-spacing="0.3">Tau=4.1</text>
<rect x="1243.1" y="1315.7" width="264.1" height="91.6" fill="#fff" stroke="#1a1a1a" stroke-width="1.25"/>
<text transform="translate(1370.9,1380.4) scale(1,1.027)" font-size="56.3" text-anchor="middle" letter-spacing="0.3">Tau=8.1</text>
<text transform="translate(1622.5,390.4) scale(1,1.027)" font-size="56.3" text-anchor="middle">(a)</text>
<text transform="translate(1618.5,922.3) scale(1,1.027)" font-size="56.3" text-anchor="middle">(b)</text>
<text transform="translate(1621.4,1474.2) scale(1,1.027)" font-size="56.3" text-anchor="middle">(c)</text>
<text transform="translate(922.7,1865.1) scale(1,1.027)" font-size="56.3" text-anchor="middle" letter-spacing="0.4">Wavelength (nm)</text>
<text transform="translate(82.3,926.4) rotate(-90) scale(1,1.027)" font-size="56.3" text-anchor="middle" letter-spacing="0.26">Total spectral irradiances (W m<tspan font-size="33" dy="-30.3">-2</tspan><tspan dy="30.3"> nm</tspan><tspan font-size="33" dy="-30.3">-1</tspan><tspan dy="30.3">) on Mars' surface</tspan></text>
<rect x="48.5" y="43.5" width="1568.0" height="70.6" fill="#fff" stroke="#1a1a1a" stroke-width="1.25"/>
<text transform="translate(145.3,100.2) scale(1,1.038)" font-size="49" letter-spacing="1.0">Solar zenith angles:</text>
<line x1="608.6" y1="84.4" x2="721.5" y2="84.4" stroke="#000000" stroke-width="7" stroke-linecap="round"/>
<text transform="translate(737.0,100.2) scale(1,1.038)" font-size="49" letter-spacing="0.6">0<tspan font-size="31.7" dy="-25.8" dx="-1">o</tspan></text>
<line x1="782.9" y1="84.4" x2="895.7" y2="84.4" stroke="#ff0000" stroke-width="7" stroke-linecap="round"/>
<text transform="translate(911.5,100.2) scale(1,1.038)" font-size="49" letter-spacing="0.6">18<tspan font-size="31.7" dy="-25.8" dx="-1">o</tspan></text>
<line x1="984.3" y1="84.4" x2="1097.1" y2="84.4" stroke="#0000ff" stroke-width="7" stroke-linecap="round"/>
<text transform="translate(1112.0,100.2) scale(1,1.038)" font-size="49" letter-spacing="0.6">36<tspan font-size="31.7" dy="-25.8" dx="0.4">o</tspan></text>
<line x1="1186.1" y1="84.4" x2="1299.3" y2="84.4" stroke="#008080" stroke-width="7" stroke-linecap="round"/>
<text transform="translate(1312.5,100.2) scale(1,1.038)" font-size="49" letter-spacing="0.6">54<tspan font-size="31.7" dy="-25.8" dx="0.8">o</tspan></text>
<line x1="1387.6" y1="84.4" x2="1501.5" y2="84.4" stroke="#ff00ff" stroke-width="7" stroke-linecap="round"/>
<text transform="translate(1515.3,100.2) scale(1,1.038)" font-size="49" letter-spacing="0.6">72<tspan font-size="31.7" dy="-25.8" dx="0.6">o</tspan></text>
</svg>
</body></html>
